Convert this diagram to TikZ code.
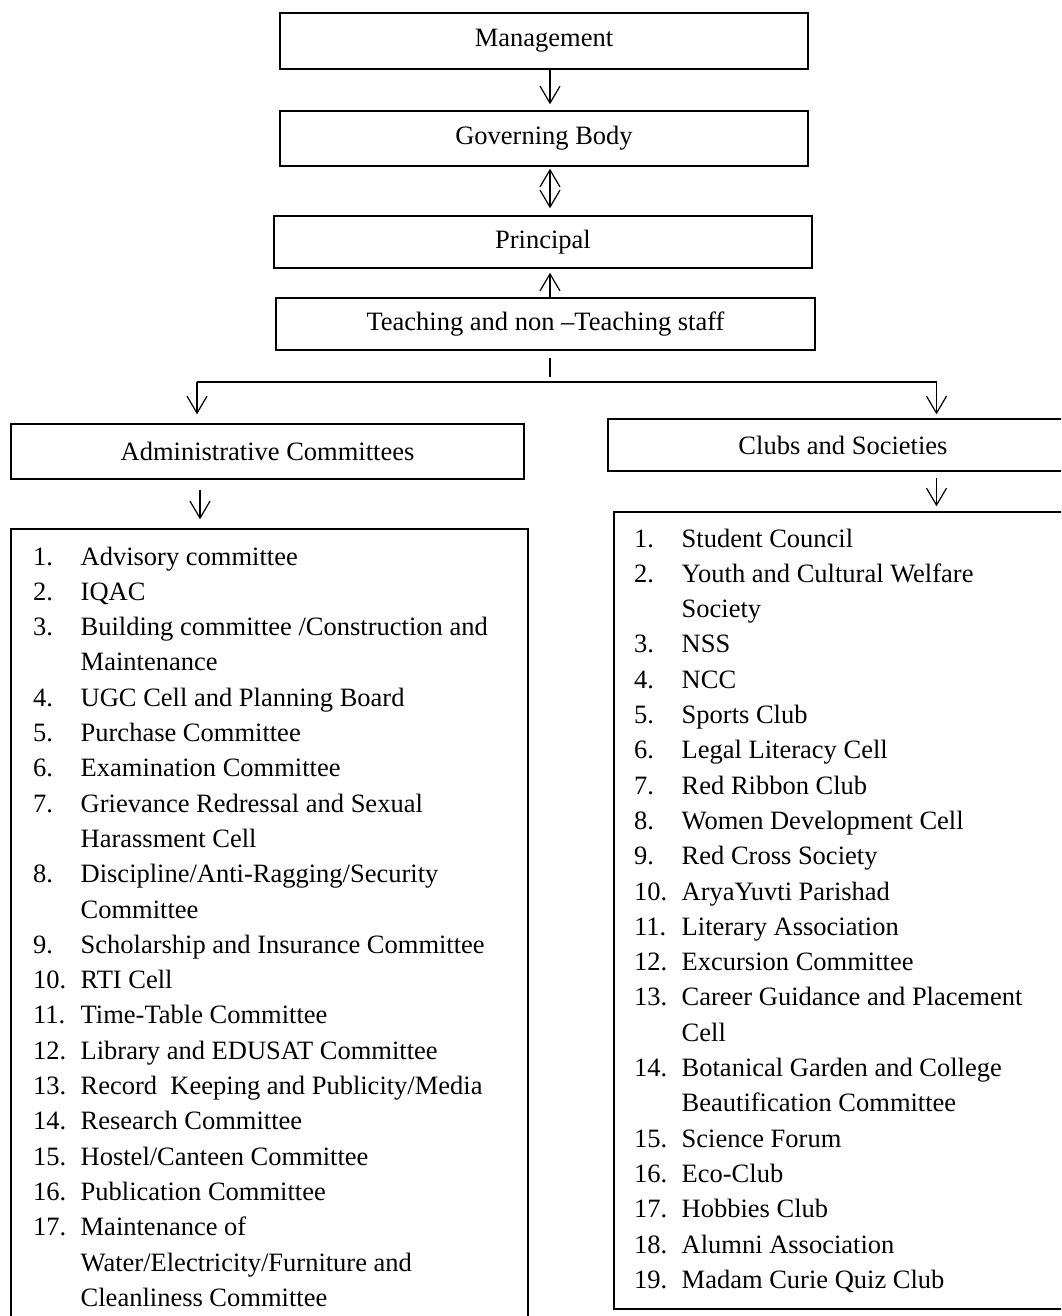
\documentclass[tikz,border=0pt]{standalone}
\usepackage{fontspec}
\setmainfont{Liberation Serif}
\usetikzlibrary{arrows.meta,calc}
\newcommand\diagfont{\fontsize{26.5pt}{35.3pt}\selectfont}
\newcommand\itm[2]{\makebox[47.5pt][l]{#1}#2}
\begin{document}
\begin{tikzpicture}[x=1pt,y=-1pt,
  box/.style={draw, line width=1.4pt, inner sep=0pt, font=\diagfont},
  conn/.style={line width=1.2pt},
  tip/.tip={Straight Barb[length=17pt,width=20pt,line width=1.2pt]},
  arr/.style={conn, -tip},
  darr/.style={conn, tip-tip},
  listtext/.style={anchor=base west, inner sep=0pt, font=\diagfont}
]
\useasboundingbox (0,0) rectangle (1061,1316);
\clip (0,0) rectangle (1061,1316);

% top chain
\node[box, minimum width=528pt, minimum height=56pt] (mgmt) at (544,41) {Management};
\node[box, minimum width=528pt, minimum height=55pt] (gov) at (544,138.5) {Governing Body};
\node[box, minimum width=538pt, minimum height=52pt] (prin) at (543,242) {Principal};
\node[box, minimum width=539pt, minimum height=52pt] (teach) at (545.5,324) {Teaching and non --Teaching staff};

% branch heads
\node[box, minimum width=513pt, minimum height=55pt] (admin) at (267.5,451.5) {Administrative Committees};
\node[box, minimum width=470pt, minimum height=52pt] (clubs) at (843,445) {Clubs and Societies};

% list boxes
\node[box, minimum width=517pt, minimum height=811pt] (adminlist) at (269.5,934.5) {};
\node[box, minimum width=476pt, minimum height=797pt] (clubslist) at (852,910.5) {};

\node[listtext] (admintext) at (33,565) {\begin{tabular}[t]{@{}l@{}}
\itm{1.}{Advisory committee}\\
\itm{2.}{IQAC}\\
\itm{3.}{Building committee /Construction and}\\
\itm{}{Maintenance}\\
\itm{4.}{UGC Cell and Planning Board}\\
\itm{5.}{Purchase Committee}\\
\itm{6.}{Examination Committee}\\
\itm{7.}{Grievance Redressal and Sexual}\\
\itm{}{Harassment Cell}\\
\itm{8.}{Discipline/Anti-Ragging/Security}\\
\itm{}{Committee}\\
\itm{9.}{Scholarship and Insurance Committee}\\
\itm{10.}{RTI Cell}\\
\itm{11.}{Time-Table Committee}\\
\itm{12.}{Library and EDUSAT Committee}\\
\itm{13.}{Record\ \ Keeping and Publicity/Media}\\
\itm{14.}{Research Committee}\\
\itm{15.}{Hostel/Canteen Committee}\\
\itm{16.}{Publication Committee}\\
\itm{17.}{Maintenance of}\\
\itm{}{Water/Electricity/Furniture and}\\
\itm{}{Cleanliness Committee}
\end{tabular}};

\node[listtext] (clubstext) at (634,547) {\begin{tabular}[t]{@{}l@{}}
\itm{1.}{Student Council}\\
\itm{2.}{Youth and Cultural Welfare}\\
\itm{}{Society}\\
\itm{3.}{NSS}\\
\itm{4.}{NCC}\\
\itm{5.}{Sports Club}\\
\itm{6.}{Legal Literacy Cell}\\
\itm{7.}{Red Ribbon Club}\\
\itm{8.}{Women Development Cell}\\
\itm{9.}{Red Cross Society}\\
\itm{10.}{AryaYuvti Parishad}\\
\itm{11.}{Literary Association}\\
\itm{12.}{Excursion Committee}\\
\itm{13.}{Career Guidance and Placement}\\
\itm{}{Cell}\\
\itm{14.}{Botanical Garden and College}\\
\itm{}{Beautification Committee}\\
\itm{15.}{Science Forum}\\
\itm{16.}{Eco-Club}\\
\itm{17.}{Hobbies Club}\\
\itm{18.}{Alumni Association}\\
\itm{19.}{Madam Curie Quiz Club}
\end{tabular}};

% connectors
\coordinate (ax) at (550,0);
\coordinate (ax2) at (200,0);
\coordinate (split) at (550,382);
\coordinate (hl) at (197,382);
\coordinate (hr) at (936.5,382);

\draw[arr, shorten >=6pt] (mgmt.south -| ax) -- (gov.north -| ax);
\draw[darr, shorten <=2pt, shorten >=7pt] (gov.south -| ax) -- (prin.north -| ax);
\draw[arr, shorten >=4pt] (teach.north -| ax) -- (prin.south -| ax);
\draw[conn, shorten <=7pt, shorten >=5pt] (teach.south -| ax) -- (split);
\draw[conn] (hl) -- (hr);
\draw[arr, shorten >=9pt] (hl) -- (admin.north -| hl);
\draw[arr, shorten >=4pt] (hr) -- (clubs.north -| hr);
\draw[arr, shorten <=10pt, shorten >=9pt] (admin.south -| ax2) -- (adminlist.north -| ax2);
\draw[arr, shorten <=6pt, shorten >=5pt] (clubs.south -| hr) -- (clubslist.north -| hr);
\end{tikzpicture}
\end{document}
